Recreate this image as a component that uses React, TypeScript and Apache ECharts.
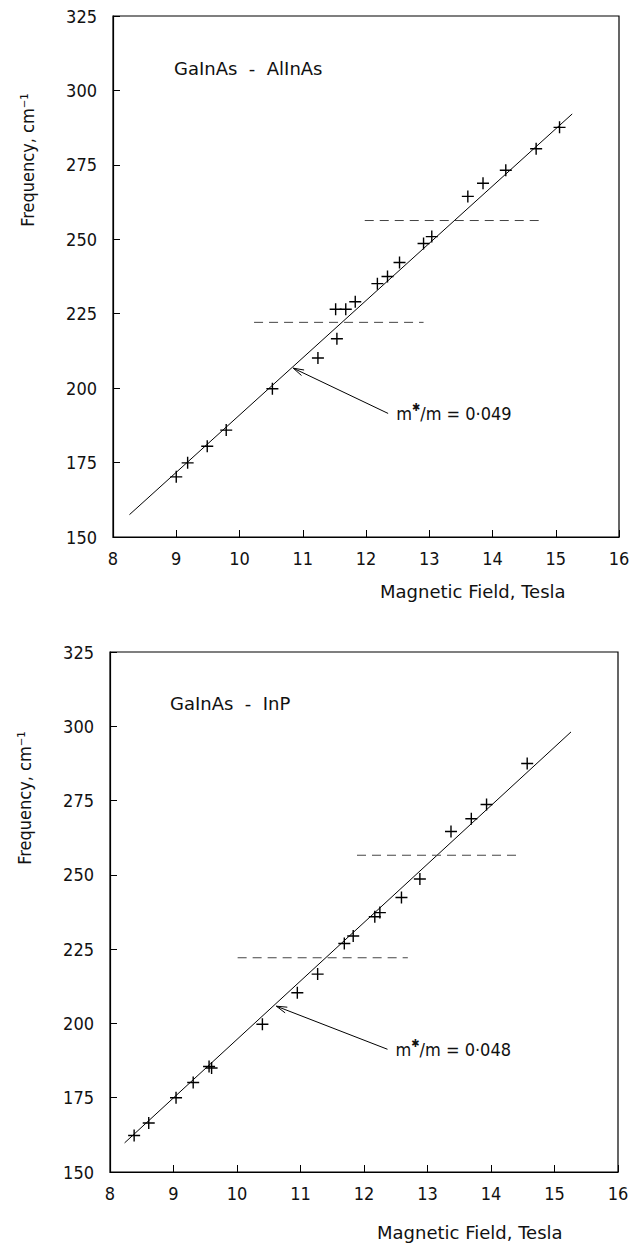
import React, { useEffect, useRef } from "react";
import * as echarts from "echarts";

const FONT = '"DejaVu Sans Condensed", "DejaVu Sans", sans-serif';
const WIDE = '"DejaVu Sans", sans-serif';

// Top panel: GaInAs - AlInAs
const topField = [9.0, 9.18, 9.49, 9.79, 10.52, 11.24, 11.54, 11.52, 11.68, 11.83, 12.18, 12.34, 12.53, 12.91, 13.04, 13.61, 13.85, 14.21, 14.69, 15.06];
const topFreq = [170.2, 174.9, 180.5, 185.9, 199.8, 210.1, 216.6, 226.5, 226.5, 229.0, 235.1, 237.5, 242.2, 248.6, 250.9, 264.4, 268.8, 273.2, 280.4, 287.6];
const topFit = [[8.26, 157.5], [15.26, 292.1]];
const topDashUpper = [[11.98, 256.3], [14.73, 256.3]];
const topDashLower = [[10.23, 222.1], [12.91, 222.1]];
const topArrow = [12.35, 191.5, 10.85, 206.7];
const topLabel = "GaInAs  -  AlInAs";
const topMass = "0·049";

// Bottom panel: GaInAs - InP
const botField = [8.38, 8.61, 9.04, 9.31, 9.56, 9.6, 10.4, 10.95, 11.27, 11.69, 11.83, 12.17, 12.25, 12.59, 12.88, 13.37, 13.69, 13.93, 14.57];
const botFreq = [162.3, 166.5, 175.0, 180.1, 185.5, 185.0, 199.7, 210.3, 216.6, 226.9, 229.4, 235.9, 237.3, 242.4, 248.6, 264.6, 268.9, 273.7, 287.5];
const botFit = [[8.23, 159.8], [15.26, 298.1]];
const botDashUpper = [[11.89, 256.6], [14.48, 256.6]];
const botDashLower = [[10.01, 222.1], [12.69, 222.1]];
const botArrow = [12.37, 191.3, 10.62, 205.8];
const botLabel = "GaInAs  -  InP";
const botMass = "0·048";

const xMin = 8, xMax = 16, xStep = 1;
const yMin = 150, yMax = 325, yStep = 25;

const CROSS = "path://M6,0V12M0,6H12";

function makeArrow(idx: number, mass: string) {
  return {
    type: "custom",
    xAxisIndex: idx,
    yAxisIndex: idx,
    silent: true,
    data: [idx === 0 ? topArrow : botArrow],
    renderItem: (params: any, api: any) => {
      const p1 = api.coord([api.value(0), api.value(1)]);
      const p2 = api.coord([api.value(2), api.value(3)]);
      const ang = Math.atan2(p2[1] - p1[1], p2[0] - p1[0]);
      const L = 11, a = 0.28;
      const h1 = [p2[0] - L * Math.cos(ang - a), p2[1] - L * Math.sin(ang - a)];
      const h2 = [p2[0] - L * Math.cos(ang + a), p2[1] - L * Math.sin(ang + a)];
      return {
        type: "group",
        children: [
          { type: "line", shape: { x1: p1[0], y1: p1[1], x2: p2[0], y2: p2[1] }, style: { stroke: "#000", lineWidth: 1 } },
          { type: "polyline", shape: { points: [h1, p2, h2] }, style: { stroke: "#000", fill: "none", lineWidth: 1 } },
          {
            type: "text",
            x: p1[0] + 8,
            y: p1[1],
            style: {
              text: "{m|m}{s|✱}{m|/m = " + mass + "}",
              verticalAlign: "middle",
              textAlign: "left",
              rich: {
                m: { fontFamily: FONT, fontSize: 18, fill: "#111", lineHeight: 22 },
                s: { fontFamily: FONT, fontSize: 11, fill: "#111", verticalAlign: "top", lineHeight: 22 },
              },
            },
          },
        ],
      };
    },
  };
}

function panelSeries(idx: number) {
  const field = idx === 0 ? topField : botField;
  const freq = idx === 0 ? topFreq : botFreq;
  const fit = idx === 0 ? topFit : botFit;
  const du = idx === 0 ? topDashUpper : botDashUpper;
  const dl = idx === 0 ? topDashLower : botDashLower;
  const mass = idx === 0 ? topMass : botMass;
  const dashStyle = { color: "#444", width: 1, type: [9, 6] };
  return [
    {
      type: "line", xAxisIndex: idx, yAxisIndex: idx, data: fit, showSymbol: false, silent: true,
      lineStyle: { color: "#000", width: 1 },
    },
    {
      type: "line", xAxisIndex: idx, yAxisIndex: idx, data: du, showSymbol: false, silent: true,
      lineStyle: dashStyle,
    },
    {
      type: "line", xAxisIndex: idx, yAxisIndex: idx, data: dl, showSymbol: false, silent: true,
      lineStyle: dashStyle,
    },
    {
      type: "scatter", xAxisIndex: idx, yAxisIndex: idx, silent: true,
      data: field.map((f, i) => [f, freq[i]]),
      symbol: CROSS, symbolSize: 12,
      itemStyle: { color: "transparent", borderColor: "#000", borderWidth: 1.4, opacity: 1 },
    },
    makeArrow(idx, mass),
  ];
}

function axisX(idx: number) {
  return {
    type: "value", gridIndex: idx, min: xMin, max: xMax, interval: xStep,
    axisLine: { show: true, lineStyle: { color: "#000", width: 1.2 } },
    axisTick: { show: true, inside: true, length: 7, lineStyle: { color: "#000", width: 1 } },
    axisLabel: { color: "#111", fontFamily: FONT, fontSize: 18, margin: 12 },
    splitLine: { show: false },
  };
}

function axisY(idx: number) {
  return {
    type: "value", gridIndex: idx, min: yMin, max: yMax, interval: yStep,
    axisLine: { show: true, lineStyle: { color: "#000", width: 1.2 } },
    axisTick: { show: true, inside: true, length: 7, lineStyle: { color: "#000", width: 1 } },
    axisLabel: { color: "#111", fontFamily: FONT, fontSize: 18, margin: 16 },
    splitLine: { show: false },
  };
}

export default function App() {
  const ref = useRef<HTMLDivElement>(null);
  useEffect(() => {
    if (!ref.current) return;
    const chart = echarts.init(ref.current, null, { renderer: "svg" });
    const textStyle = (t: string) => ({ text: t, fill: "#111", font: `18px ${WIDE}` });
    chart.setOption({
      animation: false,
      backgroundColor: "#fff",
      grid: [
        { left: 113, top: 16, width: 506, height: 521, show: true, borderColor: "#000", borderWidth: 1.2, backgroundColor: "transparent" },
        { left: 110, top: 652, width: 508, height: 520, show: true, borderColor: "#000", borderWidth: 1.2, backgroundColor: "transparent" },
      ],
      xAxis: [axisX(0), axisX(1)],
      yAxis: [axisY(0), axisY(1)],
      series: [...panelSeries(0), ...panelSeries(1)],
      graphic: [
        { type: "text", left: 174, top: 59, style: textStyle(topLabel) },
        { type: "text", left: 170, top: 694, style: textStyle(botLabel) },
        { type: "text", left: 380, top: 582, style: textStyle("Magnetic Field, Tesla") },
        { type: "text", left: 377, top: 1223, style: textStyle("Magnetic Field, Tesla") },
        {
          type: "text", x: 27, y: 160, rotation: Math.PI / 2,
          style: { text: "Frequency, cm⁻¹", fill: "#111", font: `18px ${FONT}`, textAlign: "center", textVerticalAlign: "middle" },
        },
        {
          type: "text", x: 24, y: 798, rotation: Math.PI / 2,
          style: { text: "Frequency, cm⁻¹", fill: "#111", font: `18px ${FONT}`, textAlign: "center", textVerticalAlign: "middle" },
        },
      ],
    });
    return () => chart.dispose();
  }, []);
  return <div ref={ref} style={{ position: "absolute", left: 0, top: 0, width: 634, height: 1245 }} />;
}
